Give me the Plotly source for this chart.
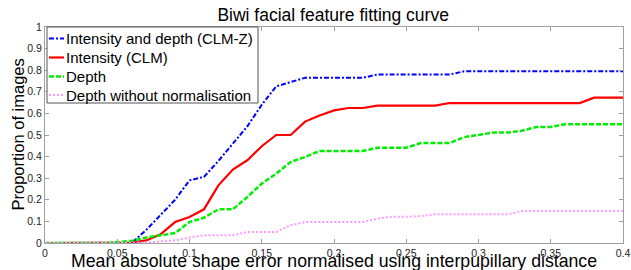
import plotly.graph_objects as go

x_vals = [round(i * 0.01, 2) for i in range(41)]

clmz = [0, 0, 0, 0, 0, 0, 0.0, 0.06, 0.13, 0.2, 0.29, 0.306, 0.38, 0.46, 0.54, 0.64, 0.725, 0.745,
        0.765, 0.765, 0.765, 0.765, 0.765, 0.78, 0.78, 0.78, 0.78, 0.78, 0.78, 0.795, 0.795, 0.795,
        0.795, 0.795, 0.795, 0.795, 0.795, 0.795, 0.795, 0.795, 0.795]
clm = [0, 0, 0, 0, 0, 0, 0.002, 0.012, 0.04, 0.097, 0.12, 0.156, 0.267, 0.34, 0.383, 0.448, 0.5, 0.5,
       0.562, 0.59, 0.614, 0.625, 0.625, 0.636, 0.636, 0.636, 0.636, 0.636, 0.648, 0.648, 0.648, 0.648,
       0.648, 0.648, 0.648, 0.648, 0.648, 0.648, 0.673, 0.673, 0.673]
depth = [0, 0, 0, 0, 0, 0.004, 0.01, 0.025, 0.035, 0.046, 0.097, 0.117, 0.156, 0.156, 0.213, 0.275,
         0.321, 0.375, 0.398, 0.426, 0.426, 0.426, 0.426, 0.441, 0.441, 0.441, 0.463, 0.463, 0.463, 0.49,
         0.502, 0.511, 0.511, 0.52, 0.537, 0.537, 0.55, 0.55, 0.55, 0.55, 0.55]
depth_nonorm = [0, 0, 0, 0, 0, 0, 0, 0.002, 0.008, 0.012, 0.025, 0.036, 0.036, 0.036, 0.051, 0.051,
                0.051, 0.082, 0.097, 0.097, 0.097, 0.097, 0.097, 0.113, 0.122, 0.122, 0.124, 0.133, 0.133,
                0.133, 0.133, 0.133, 0.133, 0.148, 0.148, 0.148, 0.148, 0.148, 0.148, 0.148, 0.148]

series_names = ["Intensity and depth (CLM-Z)", "Intensity (CLM)", "Depth", "Depth without normalisation"]
x_ticks = [0, 0.05, 0.1, 0.15, 0.2, 0.25, 0.3, 0.35, 0.4]
x_tick_text = ["0", "0.05", "0.1", "0.15", "0.2", "0.25", "0.3", "0.35", "0.4"]
y_ticks = [0, 0.1, 0.2, 0.3, 0.4, 0.5, 0.6, 0.7, 0.8, 0.9, 1]
y_tick_text = ["0", "0.1", "0.2", "0.3", "0.4", "0.5", "0.6", "0.7", "0.8", "0.9", "1"]

FONT = "Liberation Sans, Arial, sans-serif"

styles = [("#0000ff", "5px,2px,2px,2px", 2), ("#ff0000", "solid", 2.2),
          ("#00ee00", "5px,2px", 2.5), ("#ff99ff", "2px,2px", 2)]

fig = go.Figure()
for name, ys, (col, dash, w) in zip(series_names, [clmz, clm, depth, depth_nonorm], styles):
    fig.add_trace(go.Scatter(x=x_vals, y=ys, mode="lines", name=name, showlegend=False,
                             line=dict(color=col, dash=dash, width=w)))

# custom legend (layout decoration in axis-domain coordinates)
PW, PH = 578.0, 216.0
shapes = [dict(type="rect", xref="x domain", yref="y domain",
               x0=2 / PW, x1=213 / PW, y0=1 - 76 / PH, y1=1.0,
               line=dict(color="#555555", width=1), fillcolor="white", layer="above")]
annotations = []
row_y = [11.5, 30.5, 49.5, 68]
for (col, dash, w), name, ry in zip(styles, series_names, row_y):
    yy = 1 - ry / PH
    shapes.append(dict(type="line", xref="x domain", yref="y domain",
                       x0=4 / PW, x1=19 / PW, y0=yy, y1=yy, layer="above",
                       line=dict(color=col, dash=dash, width=w)))
    annotations.append(dict(text=name, xref="x domain", yref="y domain", x=19 / PW, y=yy,
                            xanchor="left", yanchor="middle", showarrow=False,
                            font=dict(family=FONT, size=15, color="black")))

annotations.append(dict(text="Mean absolute shape error normalised using interpupillary distance",
                        xref="paper", yref="paper", x=0.5, y=-18 / PH, xanchor="center",
                        yanchor="middle", showarrow=False,
                        font=dict(family=FONT, size=17.7, color="black")))
annotations.append(dict(text="Proportion of images", xref="paper", yref="paper",
                        x=-27.5 / PW, y=0.5, xanchor="center", yanchor="middle", textangle=-90,
                        showarrow=False, font=dict(family=FONT, size=16.5, color="black")))

axis_common = dict(showgrid=False, zeroline=False, showline=True, linecolor="#a0a0a0", linewidth=1,
                   mirror="ticks", ticks="inside", ticklen=4, tickcolor="#a0a0a0", automargin=False,
                   tickfont=dict(family=FONT, size=10.5, color="#222222"))

fig.update_layout(
    width=631, height=270,
    margin=dict(l=45, r=8, t=27, b=27),
    paper_bgcolor="white", plot_bgcolor="white",
    font=dict(family=FONT, color="black"),
    title=dict(text="Biwi facial feature fitting curve", x=0.528, xanchor="center",
               y=1 - 15 / 270, yanchor="middle", yref="container",
               font=dict(family=FONT, size=17.5, color="black")),
    xaxis=dict(range=[0, 0.4], tickvals=x_ticks, ticktext=x_tick_text, **axis_common),
    yaxis=dict(range=[0, 1], tickvals=y_ticks, ticktext=y_tick_text, **axis_common),
    shapes=shapes,
    annotations=annotations,
    showlegend=False,
)

fig.write_html("out.html", config={"displayModeBar": False},
               post_script="document.body.style.margin='0px';")
